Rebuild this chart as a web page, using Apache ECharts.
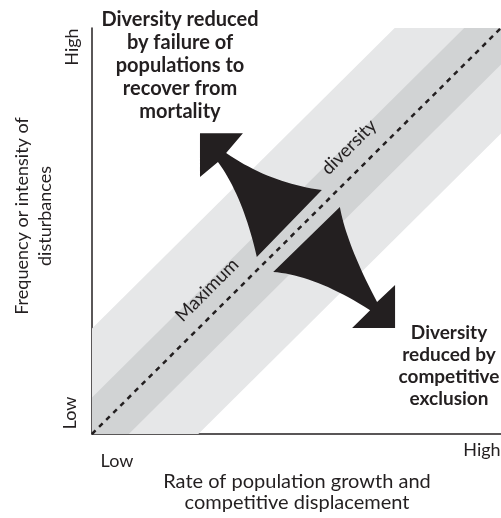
<!DOCTYPE html>
<html>
<head>
<meta charset="utf-8">
<script src="https://cdn.jsdelivr.net/npm/echarts@6/dist/echarts.min.js"></script>
<style>
  html, body { margin: 0; padding: 0; background: #fff; }
  #chart { width: 501px; height: 518px; }
</style>
</head>
<body>
<div id="chart"></div>
<script>
// axis range (conceptual, 0 = low, 100 = high)
const axisMin = 0
const axisMax = 100
// half-widths of the shaded bands around the diagonal, in axis units
const bandOuter = 26
const bandInner = 9
// line of maximum diversity
const diagonal = [[0, 0], [100, 100]]
// arrow outlines in axis units; ['Q', cx, cy, x, y] is a curved edge
const upperArrow = [
  [26.4, 74.1], [36.9, 74.1], [32.8, 69.2],
  ['Q', 43.5, 61.8, 56.2, 60.1],
  [40.3, 43.6],
  ['Q', 36.9, 58.6, 30.8, 67.0],
  [26.4, 63.3]
]
const lowerArrow = [
  [60.6, 55.9],
  ['Q', 62.3, 46.6, 69.7, 32.5],
  [74.1, 36.7], [74.1, 26.1], [63.6, 26.1], [68.0, 30.5],
  ['Q', 54.4, 39.2, 44.3, 39.9]
]

const ink = '#231f20'
const fam = 'Lato'
const regular = (size) => size + 'px ' + fam
const bold = (size) => 'bold ' + size + 'px ' + fam

const bandPoints = (w) => [
  [axisMin, axisMin], [axisMin + w, axisMin], [axisMax, axisMax - w],
  [axisMax, axisMax], [axisMax - w, axisMax], [axisMin, axisMin + w]
]

const bandSeries = (w, color) => ({
  type: 'custom',
  silent: true,
  data: [[0, 0]],
  renderItem: (params, api) => ({
    type: 'polygon',
    shape: { points: bandPoints(w).map(p => api.coord(p)) },
    style: { fill: color }
  })
})

// turn an outline into pixel points, sampling the curved edges
const outlinePixels = (outline, api) => {
  const pts = []
  outline.forEach(seg => {
    if (seg[0] === 'Q') {
      const p0 = pts[pts.length - 1]
      const c = api.coord([seg[1], seg[2]])
      const p1 = api.coord([seg[3], seg[4]])
      for (let i = 1; i <= 20; i++) {
        const t = i / 20
        const a = (1 - t) * (1 - t), b = 2 * (1 - t) * t, d = t * t
        pts.push([a * p0[0] + b * c[0] + d * p1[0], a * p0[1] + b * c[1] + d * p1[1]])
      }
    } else {
      pts.push(api.coord(seg))
    }
  })
  return pts
}

const arrowSeries = (outline) => ({
  type: 'custom',
  silent: true,
  z: 5,
  data: [[0, 0]],
  renderItem: (params, api) => ({
    type: 'polygon',
    shape: { points: outlinePixels(outline, api) },
    style: { fill: ink }
  })
})

const txt = (text, x, y, font, lineHeight, rotation) => ({
  type: 'text',
  x: x,
  y: y,
  rotation: rotation || 0,
  z: 10,
  style: {
    text: text,
    font: font,
    fill: ink,
    textAlign: 'center',
    textVerticalAlign: 'middle',
    lineHeight: lineHeight || 20
  }
})

const chart = echarts.init(document.getElementById('chart'))
const options = {
  animation: false,
  grid: { left: 92, right: 0, top: 28, bottom: 84 },
  xAxis: {
    type: 'value',
    min: axisMin,
    max: axisMax,
    axisLine: { show: true, lineStyle: { color: ink, width: 1.5 } },
    axisTick: { show: false },
    axisLabel: { show: false },
    splitLine: { show: false }
  },
  yAxis: {
    type: 'value',
    min: axisMin,
    max: axisMax,
    axisLine: { show: true, lineStyle: { color: ink, width: 1.5 } },
    axisTick: { show: false },
    axisLabel: { show: false },
    splitLine: { show: false }
  },
  series: [
    bandSeries(bandOuter, '#e6e7e8'),
    bandSeries(bandInner, '#d1d3d4'),
    {
      type: 'line',
      data: diagonal,
      symbol: 'none',
      silent: true,
      z: 4,
      lineStyle: { color: ink, width: 2.5, type: [5, 5] }
    },
    arrowSeries(upperArrow),
    arrowSeries(lowerArrow)
  ],
  graphic: [
    txt('Diversity reduced\nby failure of\npopulations to\nrecover from\nmortality', 180, 66, bold(20), 23),
    txt('Diversity\nreduced by\ncompetitive\nexclusion', 449, 366, bold(19), 22),
    txt('Maximum', 207, 290, regular(18.5), 20, Math.PI / 4),
    txt('diversity', 349, 147, regular(18.5), 20, Math.PI / 4),
    txt('Frequency or intensity of\ndisturbances', 34, 216, regular(18), 23, Math.PI / 2),
    txt('High', 72, 47, regular(18), 20, Math.PI / 2),
    txt('Low', 70, 413, regular(18), 20, Math.PI / 2),
    txt('Low', 117, 461, regular(18), 20),
    txt('High', 482, 450, regular(18), 20),
    txt('Rate of population growth and\ncompetitive displacement', 297, 492, regular(20), 21)
  ]
}
chart.setOption(options)
window.addEventListener('resize', function () {
  chart && chart.resize()
})
</script>
</body>
</html>
